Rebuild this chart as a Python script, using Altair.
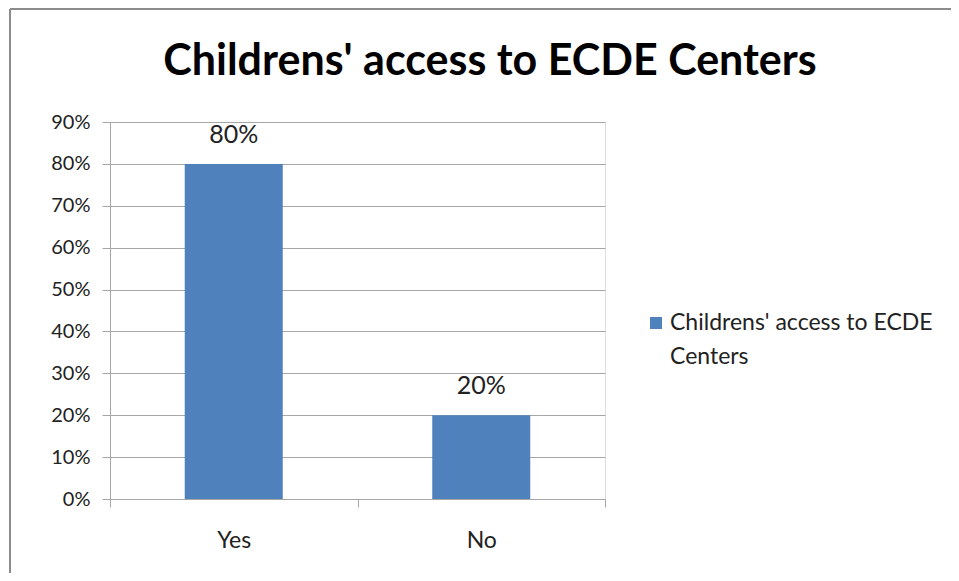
import altair as alt
import pandas as pd

categories = ["Yes", "No"]
values = [0.80, 0.20]
series_name = "Childrens' access to ECDE Centers"
y_ticks = [0, 0.1, 0.2, 0.3, 0.4, 0.5, 0.6, 0.7, 0.8, 0.9]

df = pd.DataFrame({"answer": categories, "share": values, "series": [series_name] * len(categories)})
series_df = pd.DataFrame({"series": [series_name]})

FONT = "Lato"
BLUE = "#4f81bd"
W, H = 495, 377
PAD_L, PAD_T = 102, 114
PAD_R = 943 - PAD_L - W
PAD_B = 565 - PAD_T - H

x_enc = alt.X("answer:N", sort=categories, title=None,
              scale=alt.Scale(paddingInner=0, paddingOuter=0),
              axis=alt.Axis(labelAngle=0, labelFontSize=23, labelColor="#222222", labelFont=FONT,
                            labelPadding=22, domainColor="#a6a6a6", tickColor="#a6a6a6",
                            tickSize=8, tickBand="extent", grid=False))
y_enc = alt.Y("share:Q", title=None,
              scale=alt.Scale(domain=[0, 0.9], nice=False),
              axis=alt.Axis(format=".0%", values=y_ticks, labelFontSize=20, labelColor="#222222",
                            labelFont=FONT, labelPadding=12, domainColor="#a6a6a6", tickColor="#a6a6a6",
                            tickSize=8, gridColor="#a6a6a6", gridWidth=1))

bars = alt.Chart(df).mark_bar(size=98, color=BLUE).encode(x=x_enc, y=y_enc)

labels = alt.Chart(df).mark_text(dy=-29, fontSize=25, font=FONT, color="#222222").encode(
    x=alt.X("answer:N", sort=categories),
    y="share:Q",
    text=alt.Text("share:Q", format=".0%"),
)

title = alt.Chart(series_df).mark_text(fontSize=43, font=FONT, fontWeight="bold", color="#000000",
                                       align="center", baseline="middle").encode(
    x=alt.value(380), y=alt.value(-60), text="series:N")

legend_sym = alt.Chart(series_df).mark_square(size=144, color=BLUE, opacity=1).encode(
    x=alt.value(546), y=alt.value(201))
legend_txt = alt.Chart(series_df).transform_calculate(
    lines="[slice(datum.series, 0, 25), slice(datum.series, 26)]"
).mark_text(fontSize=23, font=FONT, color="#222222", align="left", baseline="middle",
            lineHeight=34).encode(x=alt.value(560), y=alt.value(201), text="lines:N")

frame_left = alt.Chart(series_df).mark_rule(color="#8c8c8c", strokeWidth=2).encode(
    x=alt.value(-100), y=alt.value(-113), y2=alt.value(H + PAD_B + 10))
frame_top = alt.Chart(series_df).mark_rule(color="#8c8c8c", strokeWidth=2).encode(
    y=alt.value(-113), x=alt.value(-100), x2=alt.value(W + PAD_R + 20))

chart = alt.layer(bars, labels, title, legend_sym, legend_txt, frame_left, frame_top).properties(
    width=W, height=H,
    autosize=alt.AutoSizeParams(type="none"),
    padding={"left": PAD_L, "top": PAD_T, "right": PAD_R, "bottom": PAD_B},
).configure_view(stroke=None).configure(background="white")

chart.save("out.html", embed_options={"renderer": "svg", "actions": False})
